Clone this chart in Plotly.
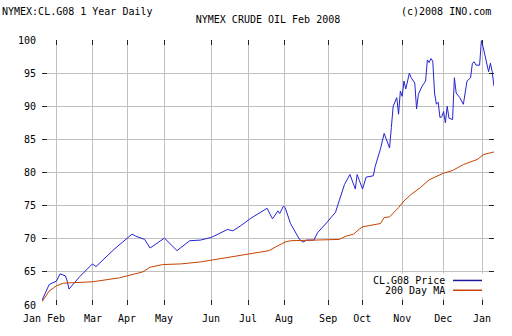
import plotly.graph_objects as go

# Trading-day index (0 = mid Jan 2007) and values
price_day = [0, 2, 4, 8, 10, 13, 14, 15, 21, 28, 30, 40, 50, 52, 57, 60, 68, 75, 82, 88,
             94, 103, 106, 110, 116, 125, 128, 131, 132, 134, 135, 138, 143, 145, 147, 151,
             153, 158, 163, 165, 168, 171, 174, 175, 178, 180, 184, 185, 188, 190, 191, 193,
             194, 195, 197, 198, 199, 200, 201, 202, 204, 205, 207, 208, 209, 211, 213, 214,
             215, 216, 217, 218, 219, 220, 221, 222, 223, 224, 225, 226, 228, 229, 230, 232,
             234, 235, 236, 238, 239, 240, 241, 243, 244, 245, 246, 247, 248, 249, 250, 251]
price_val = [60.7, 61.8, 63.1, 63.6, 64.7, 64.4, 63.6, 62.4, 64.3, 66.2, 65.8, 68.4, 70.7, 70.4,
             69.9, 68.6, 70.1, 68.2, 69.7, 69.8, 70.2, 71.4, 71.2, 71.9, 73.1, 74.6, 73.0, 74.2,
             73.8, 74.9, 74.7, 72.3, 69.9, 69.5, 69.8, 69.8, 70.9, 72.4, 74.0, 75.7, 78.2, 79.7,
             77.5, 79.7, 77.5, 79.3, 79.5, 80.9, 83.6, 85.9, 85.2, 83.7, 86.8, 90.0, 91.3, 88.8,
             92.3, 91.5, 93.8, 92.6, 95.0, 94.3, 93.5, 89.6, 91.8, 93.0, 93.8, 97.0, 96.6, 97.2,
             96.8, 92.0, 90.3, 90.6, 88.3, 88.4, 89.2, 87.5, 90.0, 88.2, 88.0, 94.3, 92.0, 91.3,
             90.3, 92.3, 93.8, 94.3, 96.5, 96.7, 96.2, 96.2, 99.9, 98.9, 97.5, 96.2, 95.2, 96.5,
             95.2, 93.0]

ma_day = [0, 2, 4, 8, 12, 28, 43, 56, 60, 67, 77, 88, 101, 114, 126, 130, 135, 138, 156,
          165, 169, 173, 176, 178, 182, 188, 190, 193, 198, 201, 205, 210, 215, 223, 228, 234,
          242, 245, 251]
ma_val = [60.5, 61.4, 62.1, 62.9, 63.3, 63.5, 64.1, 65.0, 65.7, 66.1, 66.2, 66.5, 67.1, 67.7,
          68.2, 68.8, 69.5, 69.7, 69.8, 69.9, 70.4, 70.7, 71.4, 71.8, 72.0, 72.3, 73.2, 73.3,
          74.7, 75.7, 76.7, 77.7, 78.9, 79.9, 80.3, 81.2, 82.0, 82.7, 83.1]

month_day = [0, 7.8, 28.3, 47.2, 67.8, 93.9, 114.4, 134.4, 158.9, 177.8, 200, 222.8, 244.4]
month_lbl = ["Jan", "Feb", "Mar", "Apr", "May", "Jun", "Jul", "Aug", "Sep", "Oct", "Nov", "Dec", "Jan"]
y_ticks = [60, 65, 70, 75, 80, 85, 90, 95, 100]

price_color = "#2424d0"
ma_color = "#c84300"
FONT = "DejaVu Sans Mono"

fig = go.Figure()
fig.add_trace(go.Scatter(x=price_day, y=price_val, mode="lines",
                         line=dict(color=price_color, width=1), name="CL.G08 Price"))
fig.add_trace(go.Scatter(x=ma_day, y=ma_val, mode="lines",
                         line=dict(color=ma_color, width=1), name="200 Day MA"))

# first "Jan" label is drawn just left of the axis start (as in the original)
tick_text = [""] + month_lbl[1:]

fig.update_layout(
    width=512, height=336,
    margin=dict(l=42, r=18, t=40, b=26),
    paper_bgcolor="white", plot_bgcolor="white",
    showlegend=False,
    font=dict(family=FONT, size=10, color="#000"),
    title=dict(text="NYMEX CRUDE OIL Feb 2008", x=0.5, xref="paper", xanchor="center",
               y=1 - 19 / 336, yref="container", yanchor="middle",
               font=dict(family=FONT, size=10, color="#000")),
    xaxis=dict(range=[0, 251], tickvals=month_day, ticktext=tick_text, tickangle=0,
               showgrid=True, gridcolor="#c0c0c0", gridwidth=1, zeroline=False,
               showline=False, ticks="inside", ticklen=5, tickcolor="#222",
               mirror="ticks", ticklabelstandoff=6,
               tickfont=dict(family=FONT, size=10, color="#000")),
    yaxis=dict(range=[60, 100], tickvals=y_ticks, showgrid=True, gridcolor="#c0c0c0",
               gridwidth=1, zeroline=False, showline=False, ticks="inside", ticklen=5,
               tickcolor="#222", mirror="ticks", ticklabelstandoff=5,
               tickfont=dict(family=FONT, size=10, color="#000")),
)

W, H = 452.0, 270.0
def px(x):
    return (x - 42) / W
def py(y):
    return (310 - y) / H

fig.add_annotation(text=month_lbl[0], xref="paper", yref="paper",
                   x=px(43), y=py(324), xanchor="right", yanchor="middle", showarrow=False)
fig.add_annotation(text="NYMEX:CL.G08 1 Year Daily", xref="paper", yref="paper",
                   x=px(0), y=py(10.5), xanchor="left", yanchor="middle", showarrow=False)
fig.add_annotation(text="(c)2008 INO.com", xref="paper", yref="paper",
                   x=px(493), y=py(10.5), xanchor="right", yanchor="middle", showarrow=False)

# legend
fig.add_shape(type="rect", xref="paper", yref="paper", x0=px(386), x1=px(489),
              y0=py(302), y1=py(278), fillcolor="white", line=dict(width=0), layer="above")
for i, (name, col) in enumerate([("CL.G08 Price", "#1a1a9a"), ("200 Day MA", ma_color)]):
    yy = 285 + 10 * i
    fig.add_annotation(text=name, xref="paper", yref="paper", x=px(447), y=py(yy),
                       xanchor="right", yanchor="middle", showarrow=False)
    fig.add_shape(type="line", xref="paper", yref="paper", x0=px(453), x1=px(482),
                  y0=py(yy), y1=py(yy), line=dict(color=col, width=1.5), layer="above")

fig.write_html("out.html")
